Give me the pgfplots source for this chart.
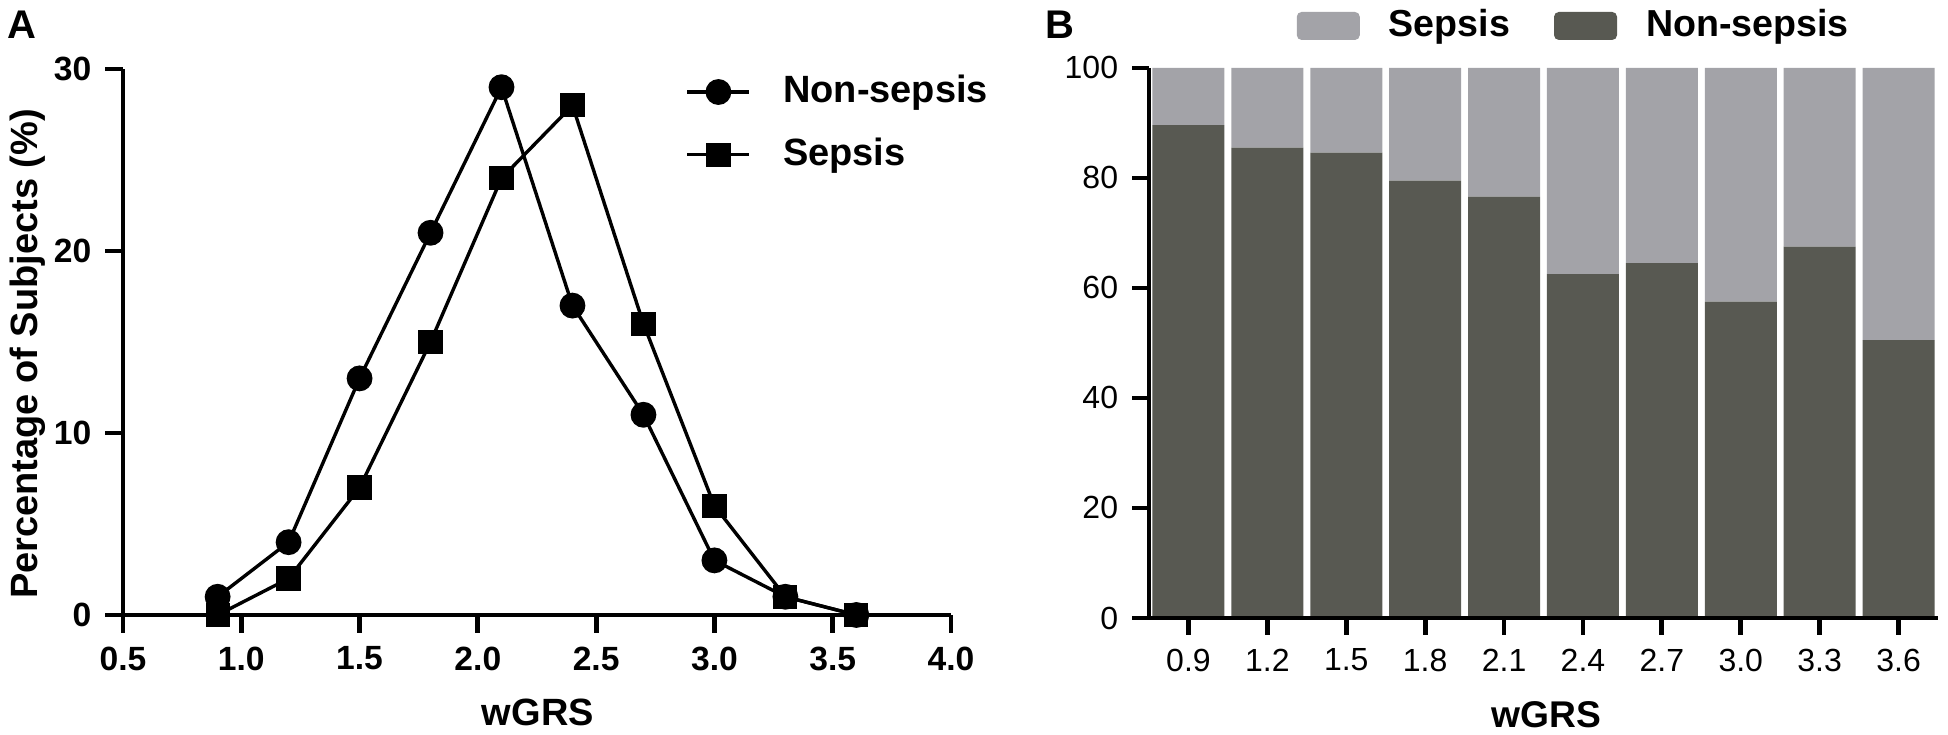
\documentclass[border=0pt]{standalone}
\usepackage{fontspec}
\setmainfont{Liberation Sans}
\usepackage{pgfplots}
\pgfplotsset{compat=1.18}
\definecolor{darkbar}{RGB}{88,89,82}
\definecolor{lightbar}{RGB}{163,163,168}
\pgfplotsset{
  boxlegend/.style={legend image code/.code={\fill[##1, rounded corners=1.2pt] (0pt,-3.5pt) rectangle (15.75pt,3.5pt);}},
  linelegend/.style={legend image code/.code={\draw[##1, mark repeat=2, mark phase=2] plot coordinates {(0pt,0pt) (7.75pt,0pt) (15.5pt,0pt)};}},
}

\begin{document}
\begin{tikzpicture}
\path[use as bounding box] (0,0) rectangle (487pt,183.75pt);
\node[anchor=north west, inner sep=0pt, font=\bfseries\fontsize{10}{12}\selectfont] at (1.75pt,181.25pt) {A};
\node[anchor=north west, inner sep=0pt, font=\bfseries\fontsize{10}{12}\selectfont] at (261.25pt,181.25pt) {B};

% ---------------- Panel A ----------------
\begin{axis}[
  at={(30.75pt,30pt)}, anchor=south west, scale only axis,
  width=207pt, height=136.5pt,
  xmin=0.5, xmax=4, ymin=0, ymax=30,
  clip=false,
  axis x line*=bottom, axis y line*=left,
  axis line style={line width=1.2pt, black},
  major tick style={line width=1.2pt, black},
  tick align=outside, major tick length=4.4pt,
  xtick={0.5,1.0,1.5,2.0,2.5,3.0,3.5,4.0},
  ytick={0,10,20,30},
  /pgf/number format/assume math mode=true,
  ticklabel style={font=\bfseries\fontsize{8.4}{10}\selectfont},
  x tick label style={/pgf/number format/.cd, fixed, fixed zerofill, precision=1, /tikz/.cd},
  y tick label style={/pgf/number format/.cd, fixed, precision=0, /tikz/.cd},
  xlabel={wGRS},
  ylabel={Percentage of Subjects (\%)},
  xlabel style={at={(axis description cs:0.501,-0.1777)}, anchor=center, font=\bfseries\fontsize{9.5}{11}\selectfont},
  ylabel style={at={(axis description cs:-0.1147,0.478)}, anchor=center, font=\bfseries\fontsize{9.5}{11}\selectfont},
  legend cell align=left,
  legend style={draw=none, fill=none, at={(0.6787,0.99)}, anchor=north west,
    font=\bfseries\fontsize{9.5}{11}\selectfont, inner sep=0pt, row sep=7.3pt, column sep=8pt,
    nodes={inner sep=0pt}},
  linelegend,
]
\addplot[black, line width=0.85pt, mark=*, mark size=2.8pt, mark options={solid}]
  coordinates {(0.9,1) (1.2,4) (1.5,13) (1.8,21) (2.1,29) (2.4,17) (2.7,11) (3.0,3) (3.3,1) (3.6,0)};
\addlegendentry{Non-sepsis}
\addplot[black, line width=0.85pt, mark=square*, mark size=2.6pt, mark options={solid}]
  coordinates {(0.9,0) (1.2,2) (1.5,7) (1.8,15) (2.1,24) (2.4,28) (2.7,16) (3.0,6) (3.3,1) (3.6,0)};
\addlegendentry{Sepsis}
\end{axis}

% ---------------- Panel B ----------------
\begin{axis}[
  at={(287.25pt,29.25pt)}, anchor=south west, scale only axis,
  width=197.25pt, height=137.5pt,
  xmin=-0.5, xmax=9.5, ymin=0, ymax=100,
  ybar stacked, bar width=18pt,
  axis on top,
  axis x line*=bottom, axis y line*=left,
  axis line style={line width=1.2pt, black},
  major tick style={line width=1.2pt, black},
  tick align=outside, major tick length=4.2pt,
  xtick={0,1,2,3,4,5,6,7,8,9},
  xticklabels={0.9,1.2,1.5,1.8,2.1,2.4,2.7,3.0,3.3,3.6},
  ytick={0,20,40,60,80,100},
  /pgf/number format/assume math mode=true,
  ticklabel style={font=\fontsize{8}{10}\selectfont},
  xlabel={wGRS},
  xlabel style={at={(axis description cs:0.504,-0.176)}, anchor=center, font=\bfseries\fontsize{9.3}{11}\selectfont},
  reverse legend, legend columns=2, legend cell align=left,
  legend style={draw=none, fill=none, at={(0.1863,1.0764)}, anchor=west,
    font=\bfseries\fontsize{9.4}{11}\selectfont, inner sep=0pt, column sep=7.25pt,
    nodes={inner sep=0pt},
    /tikz/every even column/.append style={column sep=11pt}},
]
\addplot[fill=darkbar, draw=none, boxlegend]
  coordinates {(0,89.6) (1,85.5) (2,84.6) (3,79.5) (4,76.6) (5,62.5) (6,64.5) (7,57.5) (8,67.5) (9,50.5)};
\addlegendentry{Non-sepsis}
\addplot[fill=lightbar, draw=none, boxlegend]
  coordinates {(0,10.4) (1,14.5) (2,15.4) (3,20.5) (4,23.4) (5,37.5) (6,35.5) (7,42.5) (8,32.5) (9,49.5)};
\addlegendentry{Sepsis}
\end{axis}
\end{tikzpicture}
\end{document}
